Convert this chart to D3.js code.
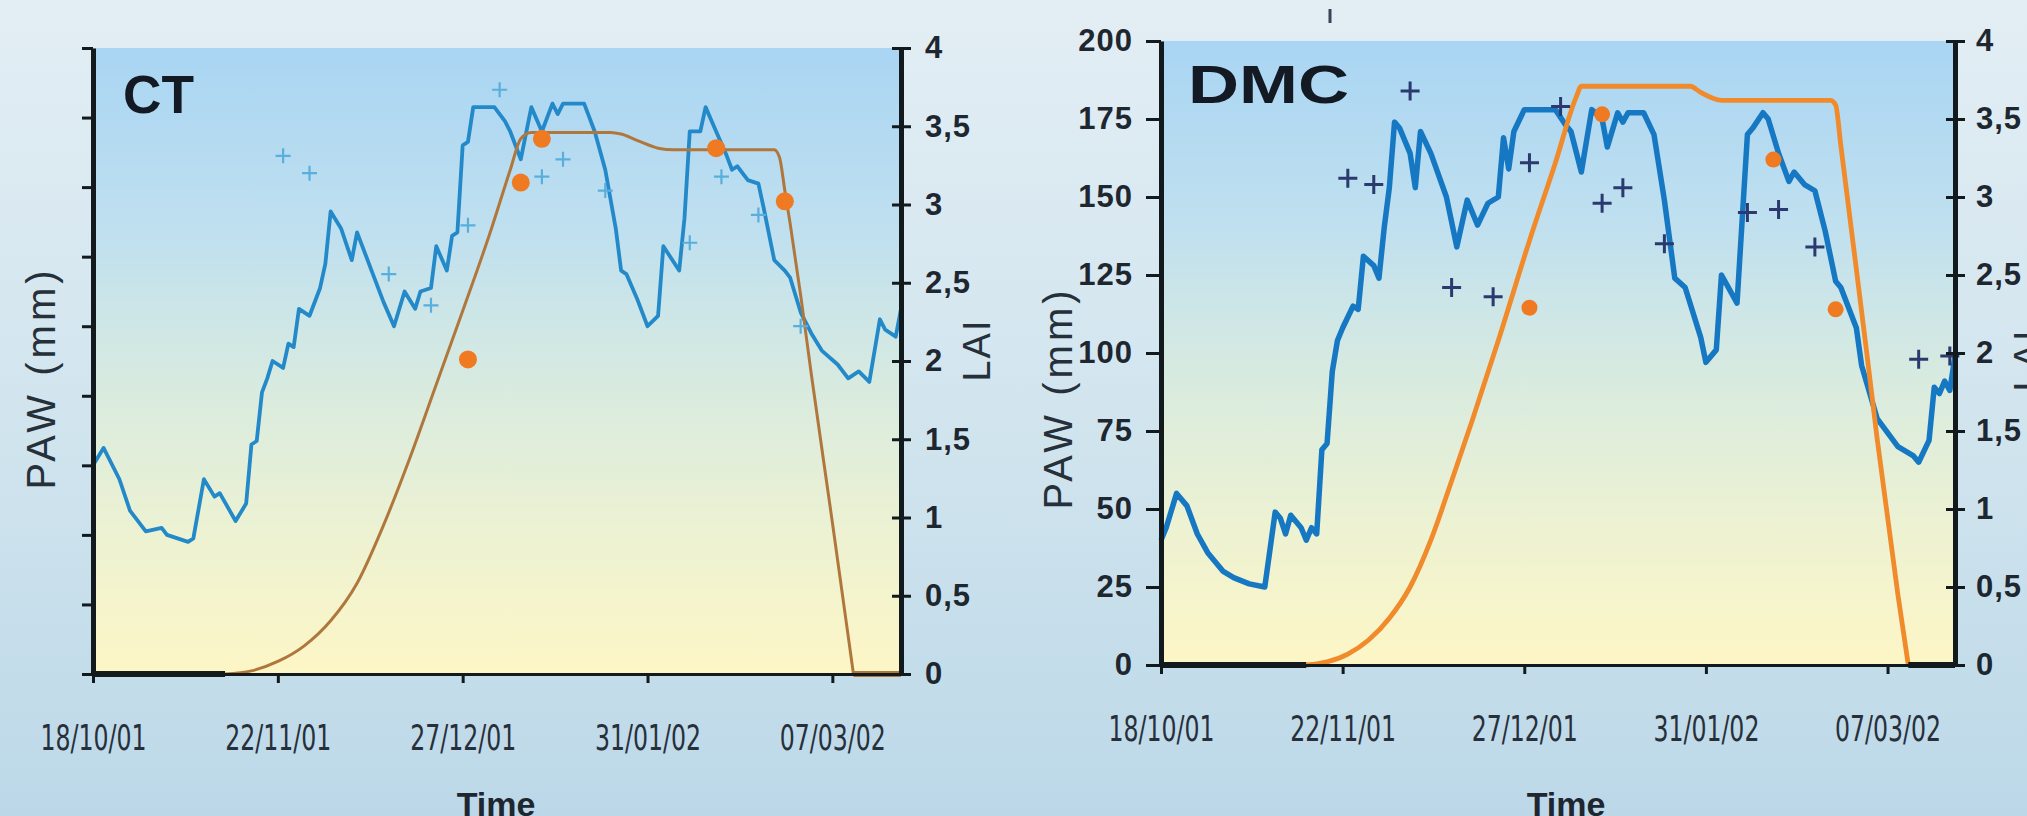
<!DOCTYPE html>
<html>
<head>
<meta charset="utf-8">
<script src="https://cdn.jsdelivr.net/npm/d3@7"></script>
<style>
  html, body { margin: 0; padding: 0; overflow: hidden; background: #d3e5ef; }
  svg { display: block; }
</style>
</head>
<body>
<svg id="chart" width="2027" height="816"></svg>
<script>
// ---- Season and time axis ----
const seasonStartLabel = "18/10/01";
const seasonEndLabel = "20/03/02";
const dateTickLabels = ["18/10/01", "22/11/01", "27/12/01", "31/01/02", "07/03/02"];
const laiTicks = [0, 0.5, 1, 1.5, 2, 2.5, 3, 3.5, 4];

// ---- CT: simulated plant available water (mm), days after 18/10/01 ----
const ctPawDays = [0,2,5,7,10,13,14,18,19,21,23,24,27,29,30,31,32,33,34,36,37,38,39,41,43,44,45,47,49,50,53,55,57,59,61,62,64,65,67,68,69,70,71,72,76,78,79,81,83,85,87,88,89,93,95,97,99,100,101,103,105,107,108,111,112,113,115,116,118,120,121,122,124,126,127,129,131,132,134,136,138,141,143,145,147,149,150,152,153];
const ctPaw = [60,65,56,47,41,42,40,38,39,56,51,52,44,49,66,67,81,85,90,88,95,94,105,103,111,118,133,128,119,127,115,107,100,110,105,110,111,123,116,126,127,152,153,163,163,159,156,148,163,156,164,161,164,164,156,145,128,116,115,108,100,103,123,116,131,156,156,163,156,149,145,146,142,141,134,119,116,114,104,98,93,89,85,87,84,102,99,97,105];
// CT: measured PAW (mm)
const ctObsDays = [36,41,56,64,71,77,85,89,97,113,119,126,134];
const ctObsPaw = [149,144,115,106,129,168,143,148,139,124,143,132,100];
// CT: simulated LAI
const ctLaiDays = [0,25,30,35,40,45,50,55,60,65,70,75,79,81,83,98,100,103,107,110,129,130,131,132,134,136,140,144,153];
const ctLai = [0,0,0.02,0.08,0.18,0.34,0.58,0.95,1.38,1.85,2.32,2.80,3.22,3.42,3.46,3.46,3.45,3.41,3.36,3.35,3.35,3.30,3.09,2.88,2.42,1.92,0.97,0,0];
// CT: measured LAI
const ctLaiObsDays = [71,81,85,118,131];
const ctLaiObs = [2.01,3.14,3.42,3.36,3.02];

// ---- DMC: simulated plant available water (mm) ----
const dmcPawDays = [0,1,3,5,7,9,12,14,17,20,22,23,24,25,27,28,29,30,31,32,33,34,35,37,38,39,41,42,43,44,45,46,48,49,50,52,55,57,59,61,63,65,66,67,68,70,76,78,79,81,83,85,86,88,89,90,93,95,97,99,101,104,105,107,108,111,113,114,116,117,119,121,122,124,126,128,130,131,134,135,138,142,145,146,148,149,150,151,152,153];
const dmcPaw = [40,44,55,51,42,36,30,28,26,25,49,47,42,48,44,40,44,42,69,71,94,104,108,115,114,131,128,124,140,153,174,172,164,153,171,164,150,134,149,141,148,150,169,159,171,178,178,173,171,158,178,175,166,177,174,177,177,170,149,124,121,105,97,101,125,116,170,172,177,175,164,155,158,154,152,139,123,121,108,96,79,70,67,65,72,89,87,91,88,99];
// DMC: measured PAW (mm)
const dmcObsDays = [36,41,48,56,64,71,77,85,89,97,113,119,126,146,152];
const dmcObsPaw = [156,154,184,121,118,161,179,148,153,135,145,146,134,98,99];
// DMC: simulated LAI
const dmcLaiDays = [0,20,28,32,36,40,44,48,52,56,60,65,71,76,80,81,102,104,108,129,130,131,133,136,138,142,144,153];
const dmcLai = [0,0,0,0.02,0.07,0.16,0.30,0.50,0.80,1.18,1.57,2.08,2.72,3.22,3.64,3.71,3.71,3.67,3.62,3.62,3.59,3.33,2.80,2.00,1.45,0.45,0,0];
// DMC: measured LAI
const dmcLaiObsDays = [71,85,118,130];
const dmcLaiObs = [2.29,3.53,3.24,2.28];

// ---- helpers ----
const parseDay = d3.utcParse("%d/%m/%y");
const start = parseDay(seasonStartLabel);
const end = parseDay(seasonEndLabel);
const dayToDate = d => d3.utcDay.offset(start, d);
const zip = (days, vals) => days.map((d, i) => ({ date: dayToDate(d), v: vals[i] }));
const commaFormat = d3.formatLocale({ decimal: ",", thousands: ".", grouping: [3], currency: ["", ""] }).format(".1~f");

const AXIS = "#121a1e";
const svg = d3.select("#chart");
const defs = svg.append("defs");

const pageGrad = defs.append("linearGradient").attr("id", "pageFill").attr("x1", 0).attr("y1", 0).attr("x2", 0).attr("y2", 1);
[["0%", "#e3eef4"], ["55%", "#d0e4ee"], ["100%", "#bcd8e8"]].forEach(([o, c]) =>
  pageGrad.append("stop").attr("offset", o).attr("stop-color", c));

const plotGrad = defs.append("linearGradient").attr("id", "plotFill").attr("x1", 0).attr("y1", 0).attr("x2", 0).attr("y2", 1);
[["0%", "#a9d5f3"], ["30%", "#c0e0ef"], ["55%", "#d9ebdf"], ["78%", "#edf2d2"], ["100%", "#fdf6c6"]].forEach(([o, c]) =>
  plotGrad.append("stop").attr("offset", o).attr("stop-color", c));

svg.append("rect").attr("width", 2027).attr("height", 816).attr("fill", "url(#pageFill)");

const panels = [
  {
    title: "CT", titleX: 123, titleY: 113, titleLen: 71,
    left: 93, right: 901, top: 48, bottom: 674,
    pawMax: 180, pawStep: 20, pawLabels: false, leftTick: 11,
    paw: zip(ctPawDays, ctPaw), obs: zip(ctObsDays, ctObsPaw),
    lai: zip(ctLaiDays, ctLai), laiObs: zip(ctLaiObsDays, ctLaiObs),
    pawColor: "#2389c9", pawWidth: 3.8,
    laiColor: "#b0773c", laiWidth: 3, tailColor: "#b0773c",
    obsColor: "#5aaedb", obsArm: 7.5, obsWidth: 2.2,
    dotColor: "#f07a22", dotR: 9,
    rightLabelX: 24,
    pawTitle: { x: 55, y: 378 }, laiTitle: { x: 990, y: 350 },
    timeX: 496
  },
  {
    title: "DMC", titleX: 1188, titleY: 103, titleLen: 161,
    left: 1161, right: 1955, top: 41, bottom: 665,
    pawMax: 200, pawStep: 25, pawLabels: true, leftTick: 15,
    paw: zip(dmcPawDays, dmcPaw), obs: zip(dmcObsDays, dmcObsPaw),
    lai: zip(dmcLaiDays, dmcLai), laiObs: zip(dmcLaiObsDays, dmcLaiObs),
    pawColor: "#1678c2", pawWidth: 5.5,
    laiColor: "#f08a2a", laiWidth: 4.8, tailColor: AXIS,
    obsColor: "#2b3a6e", obsArm: 9.5, obsWidth: 3,
    dotColor: "#f07a22", dotR: 8,
    rightLabelX: 21,
    pawTitle: { x: 1072, y: 398 }, laiTitle: { x: 2041, y: 360 },
    timeX: 1566
  }
];

const tickDates = dateTickLabels.map(parseDay);
const axisFont = "'Liberation Sans', Arial, sans-serif";
const narrowFont = "'Liberation Sans Narrow', 'Arial Narrow', 'DejaVu Sans Condensed', sans-serif";

panels.forEach(p => {
  const g = svg.append("g");
  const x = d3.scaleUtc().domain([start, end]).range([p.left, p.right]);
  const yP = d3.scaleLinear().domain([0, p.pawMax]).range([p.bottom, p.top]);
  const yL = d3.scaleLinear().domain([0, 4]).range([p.bottom, p.top]);

  // plot area
  g.append("rect")
    .attr("x", p.left).attr("y", p.top)
    .attr("width", p.right - p.left).attr("height", p.bottom - p.top)
    .attr("fill", "url(#plotFill)");

  // panel title
  g.append("text")
    .attr("x", p.titleX).attr("y", p.titleY)
    .attr("textLength", p.titleLen).attr("lengthAdjust", "spacingAndGlyphs")
    .attr("font-family", axisFont)
    .attr("font-weight", "bold").attr("font-size", 53)
    .attr("fill", "#131a24")
    .text(p.title);

  // simulated PAW
  const pawLine = d3.line().x(d => x(d.date)).y(d => yP(d.v));
  g.append("path").datum(p.paw)
    .attr("d", pawLine)
    .attr("fill", "none").attr("stroke", p.pawColor)
    .attr("stroke-width", p.pawWidth).attr("stroke-linejoin", "round");

  // simulated LAI: bare-soil stretches lie on the time axis
  let lead = 0;
  while (lead + 1 < p.lai.length && p.lai[lead + 1].v === 0) lead++;
  let trail = p.lai.length - 1;
  while (trail - 1 > lead && p.lai[trail - 1].v === 0) trail--;
  const straight = d3.line().x(d => x(d.date)).y(d => yL(d.v));
  const smooth = d3.line().x(d => x(d.date)).y(d => yL(d.v)).curve(d3.curveMonotoneX);
  g.append("path").datum(p.lai.slice(0, lead + 1))
    .attr("d", straight).attr("fill", "none")
    .attr("stroke", AXIS).attr("stroke-width", 6);
  g.append("path").datum(p.lai.slice(lead, trail + 1))
    .attr("d", smooth).attr("fill", "none")
    .attr("stroke", p.laiColor).attr("stroke-width", p.laiWidth)
    .attr("stroke-linejoin", "round");
  g.append("path").datum(p.lai.slice(trail))
    .attr("d", straight).attr("fill", "none")
    .attr("stroke", p.tailColor).attr("stroke-width", 6);

  // measured PAW (+)
  g.append("g").selectAll("path").data(p.obs).join("path")
    .attr("d", d => {
      const cx = x(d.date), cy = yP(d.v), a = p.obsArm;
      return `M${cx - a},${cy}H${cx + a}M${cx},${cy - a}V${cy + a}`;
    })
    .attr("stroke", p.obsColor).attr("stroke-width", p.obsWidth);

  // measured LAI (dots)
  g.append("g").selectAll("circle").data(p.laiObs).join("circle")
    .attr("cx", d => x(d.date)).attr("cy", d => yL(d.v))
    .attr("r", p.dotR).attr("fill", p.dotColor);

  // axes
  const bottomAxis = g.append("g").attr("transform", `translate(0,${p.bottom})`)
    .call(d3.axisBottom(x).tickValues(tickDates).tickSize(9).tickSizeOuter(0)
      .tickFormat((d, i) => dateTickLabels[i]));
  bottomAxis.select(".domain").attr("stroke", AXIS).attr("stroke-width", 3);
  bottomAxis.selectAll(".tick line").attr("stroke", AXIS).attr("stroke-width", 3);
  bottomAxis.selectAll(".tick text")
    .attr("y", 76).attr("dy", null)
    .attr("textLength", 106).attr("lengthAdjust", "spacingAndGlyphs")
    .attr("font-family", narrowFont).attr("font-size", 35)
    .attr("fill", "#27303a");

  const leftAxis = g.append("g").attr("transform", `translate(${p.left},0)`)
    .call(d3.axisLeft(yP).tickValues(d3.range(0, p.pawMax + 1, p.pawStep))
      .tickSize(p.leftTick).tickSizeOuter(0).tickPadding(13)
      .tickFormat(p.pawLabels ? d3.format("d") : () => ""));
  leftAxis.select(".domain").attr("stroke", AXIS).attr("stroke-width", 5);
  leftAxis.selectAll(".tick line").attr("stroke", AXIS).attr("stroke-width", 3);
  leftAxis.selectAll(".tick text")
    .attr("font-family", axisFont).attr("font-weight", "bold").attr("font-size", 31)
    .attr("letter-spacing", 1).attr("fill", "#1e2630");

  const rightAxis = g.append("g").attr("transform", `translate(${p.right},0)`)
    .call(d3.axisRight(yL).tickValues(laiTicks).tickSize(10).tickSizeOuter(0)
      .tickFormat(commaFormat));
  rightAxis.select(".domain").attr("stroke", AXIS).attr("stroke-width", 5);
  rightAxis.selectAll(".tick line").attr("x1", -9).attr("stroke", AXIS).attr("stroke-width", 3);
  rightAxis.selectAll(".tick text")
    .attr("x", p.rightLabelX)
    .attr("font-family", axisFont).attr("font-weight", "bold").attr("font-size", 31)
    .attr("letter-spacing", 1).attr("fill", "#1e2630");

  // axis titles
  g.append("text")
    .attr("transform", `translate(${p.pawTitle.x},${p.pawTitle.y}) rotate(-90)`)
    .attr("text-anchor", "middle")
    .attr("font-family", axisFont).attr("font-size", 40).attr("letter-spacing", 4)
    .attr("fill", "#26303a")
    .text("PAW (mm)");
  g.append("text")
    .attr("transform", `translate(${p.laiTitle.x},${p.laiTitle.y}) rotate(-90)`)
    .attr("text-anchor", "middle")
    .attr("font-family", axisFont).attr("font-size", 38).attr("letter-spacing", 2)
    .attr("fill", "#26303a")
    .text("LAI");
  g.append("text")
    .attr("x", p.timeX).attr("y", 816)
    .attr("text-anchor", "middle")
    .attr("font-family", axisFont).attr("font-weight", "bold").attr("font-size", 34)
    .attr("fill", "#1e2630")
    .text("Time");
});

// small stray mark above the DMC panel
svg.append("line").attr("x1", 1330).attr("x2", 1330).attr("y1", 9).attr("y2", 23)
  .attr("stroke", "#3a4256").attr("stroke-width", 3);
</script>
</body>
</html>
